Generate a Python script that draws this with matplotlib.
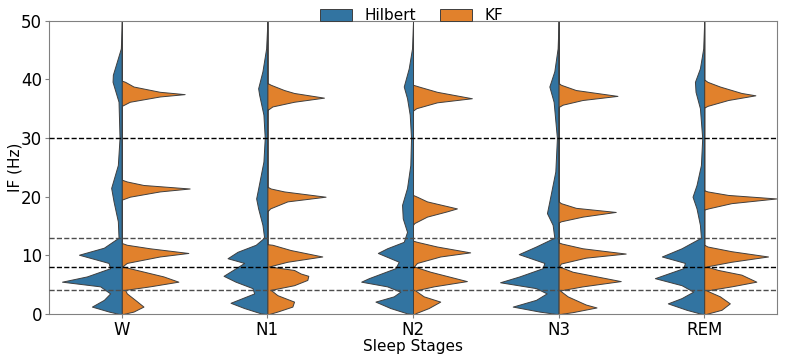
import matplotlib
matplotlib.use("Agg")
import matplotlib.pyplot as plt
from matplotlib.patches import Patch
import numpy as np

stages = ["W", "N1", "N2", "N3", "REM"]
methods = ["Hilbert", "KF"]
band_edges = [4, 8, 13, 30]

# half-violin profiles: (IF in Hz, density in arbitrary units)
w_hilbert = [(0, 3), (0.4, 13), (1.25, 30), (2.4, 18), (3.5, 11.7), (4.7, 21.7), (5.5, 60),
             (6.4, 35), (7.8, 11.7), (8.7, 13.3), (10.1, 43), (11.3, 18), (13, 3.3), (15.8, 4),
             (19.2, 8.3), (21.5, 10.7), (25.4, 4), (30, 2.3), (36.2, 3.3), (39.6, 9.3),
             (40.8, 9), (45.3, 1), (50, 0)]
w_kf = [(0, 1.7), (0.4, 11.7), (1.25, 21.7), (2.4, 13.3), (3.5, 5), (4.1, 3.3), (4.7, 28),
        (5.5, 56.7), (6.4, 41.7), (7.5, 15), (8.1, 0.5), (8.7, 5), (9.8, 38), (10.4, 66.7),
        (11.2, 28), (11.8, 5), (12.1, 0), (19.5, 0), (20.0, 8), (20.9, 38), (21.4, 68),
        (22.0, 21.7), (22.6, 5), (22.9, 0), (35.5, 0), (36.2, 8), (37.1, 38), (37.5, 63),
        (37.9, 38), (38.8, 11.7), (39.6, 3.3), (39.8, 0), (50, 0)]

n1_hilbert = [(0, 2), (0.1, 6.7), (1.0, 23.3), (1.9, 37), (3.5, 13.3), (4.4, 15), (5.5, 32),
              (6.5, 44), (7.8, 31.7), (8.7, 23.3), (9.5, 40), (10.6, 30), (11.8, 11.7),
              (13, 3.3), (15.2, 5), (18.0, 9.3), (19.7, 11.3), (21.4, 9.3), (26, 4),
              (30, 2.7), (34, 4), (37.4, 8.3), (38.5, 9.3), (41.4, 5), (45.3, 1.3), (50, 0)]
n1_kf = [(0, 2), (0.4, 10), (1.25, 25), (2.1, 26.7), (3.2, 10), (4.1, 3.3), (4.9, 26.7),
         (5.8, 40), (6.5, 41), (6.9, 33.3), (7.5, 26.7), (8.1, 1.7), (8.9, 20), (9.8, 55),
         (10.9, 23.3), (11.8, 5), (11.9, 0), (17.5, 0), (18.0, 2.7), (19.2, 20), (20.0, 58.3),
         (20.9, 16.7), (21.4, 3.3), (21.7, 0), (34.8, 0), (35.4, 5), (36.2, 26.7),
         (36.9, 56.7), (37.7, 26.7), (38.2, 16.7), (39.1, 3.3), (39.4, 0), (50, 0)]

n2_hilbert = [(0, 2), (0.1, 6), (1.0, 22.7), (2.1, 37.7), (3.0, 19.3), (3.8, 12.7), (4.7, 26),
              (5.5, 52), (6.1, 44.3), (7.8, 17.7), (8.9, 14.3), (10.4, 35.3), (11.2, 26),
              (12.3, 9.3), (14.0, 6), (16.3, 10.3), (18.6, 11), (21.5, 6), (25.4, 2.7),
              (30, 2), (34, 3.3), (36.8, 6), (38.8, 9.3), (41.9, 4.3), (45.3, 1), (50, 0)]
n2_kf = [(0, 2.3), (0.1, 2.3), (1.0, 15.7), (2.1, 27.3), (3.0, 10.7), (4.0, 2.3), (4.7, 20.7),
         (5.6, 54), (7.2, 17.3), (8.1, 1), (8.7, 4), (9.8, 27.3), (10.5, 57.3), (11.5, 24),
         (12.3, 4), (12.5, 0), (15.2, 0), (15.5, 1.3), (16.6, 14), (17.5, 34), (18.0, 44),
         (19.2, 14), (20.0, 4), (20.3, 0), (34.7, 0), (35.1, 3.3), (36.1, 24), (36.8, 59),
         (37.9, 24), (38.8, 5.7), (39.1, 0), (50, 0)]

n3_hilbert = [(0, 2.7), (0.4, 19.3), (1.25, 46), (2.4, 22.7), (3.5, 12), (4.4, 22.7),
              (5.4, 58.7), (6.4, 39.3), (7.8, 16), (8.7, 14.3), (10.2, 40), (11.5, 22.7),
              (13, 4.3), (15.2, 6), (17.2, 11.7), (19.2, 9.3), (24.3, 3.3), (30, 1.7),
              (36.2, 5), (38.8, 9.3), (41.4, 4.3), (45.3, 1), (50, 0)]
n3_kf = [(0, 2), (0.3, 14), (1.1, 38), (1.6, 27.3), (3.0, 9), (4.0, 1.3), (4.7, 24),
         (5.6, 62.3), (7.2, 14), (8.1, 0.5), (8.6, 2.3), (9.6, 27.3), (10.3, 67.3), (11.2, 24),
         (12.0, 3.3), (12.2, 0), (15.6, 0), (15.8, 2.3), (16.6, 24), (17.4, 57.3),
         (18.1, 17.3), (18.9, 2.3), (19.2, 0), (35.3, 0), (35.7, 4), (36.5, 24), (37.2, 59),
         (38.2, 17.3), (39.1, 2.3), (39.4, 0), (50, 0)]

rem_hilbert = [(0, 2.7), (0.7, 17.7), (1.8, 36.5), (2.7, 22.7), (3.8, 11), (4.9, 22.7),
               (6.1, 49.5), (7.8, 21), (8.7, 19.3), (9.8, 42.5), (11.2, 22.7), (13, 3.3),
               (15.2, 4.3), (18.0, 7.7), (20.0, 11.7), (22.0, 7.7), (25.4, 3.3), (30, 2),
               (35.1, 4.3), (37.9, 8.7), (39.6, 9.3), (41.9, 4.3), (45.3, 1), (50, 0)]
rem_kf = [(0, 2), (0.7, 17.3), (1.8, 25.7), (3.0, 15.7), (4.0, 2.3), (4.7, 27.3), (5.5, 52.3),
          (6.7, 37.3), (7.5, 14), (8.1, 2.3), (8.9, 27.3), (9.8, 64), (10.7, 27.3),
          (11.5, 3.3), (11.8, 0), (17.8, 0), (18.0, 4), (18.9, 27.3), (19.7, 72.3),
          (20.3, 24), (20.9, 3.3), (21.1, 0), (35.2, 0), (35.5, 3.3), (36.5, 24),
          (37.3, 51.3), (37.7, 37.3), (38.8, 15.7), (39.6, 3.3), (40.0, 0), (50, 0)]

profiles = {
    "W": (w_hilbert, w_kf),
    "N1": (n1_hilbert, n1_kf),
    "N2": (n2_hilbert, n2_kf),
    "N3": (n3_hilbert, n3_kf),
    "REM": (rem_hilbert, rem_kf),
}

colors = ["#3274a1", "#e1812c"]
edge = "#3f3f3f"
scale = 1 / 146.0

fig = plt.figure(figsize=(7.87, 3.6), dpi=100)
ax = fig.add_axes([0.0623, 0.128, 0.925, 0.814])

for i, st in enumerate(stages):
    hil, kf = profiles[st]
    y, d = np.array(hil).T
    ax.fill_betweenx(y, i - d * scale, i, facecolor=colors[0], edgecolor=edge, lw=0.7, zorder=2)
    y, d = np.array(kf).T
    ax.fill_betweenx(y, i, i + d * scale, facecolor=colors[1], edgecolor=edge, lw=0.7, zorder=2)

for b in band_edges:
    c = "black" if b in (8, 30) else "0.3"
    ax.axhline(b, color=c, ls="--", lw=1.0, zorder=3)

ax.set_xlim(-0.5, 4.5)
ax.set_ylim(0, 50)
ax.set_xticks(range(len(stages)))
ax.set_xticklabels(stages)
ax.set_yticks([0, 10, 20, 30, 40, 50])
ax.tick_params(labelsize=12, color="0.5", length=3, pad=2)
ax.set_xlabel("Sleep Stages", fontsize=11)
ax.set_ylabel("IF (Hz)", fontsize=11)
ax.xaxis.set_label_coords(0.5, -0.085)
ax.yaxis.set_label_coords(-0.037, 0.5)
for s in ax.spines.values():
    s.set_color("0.5")

handles = [Patch(facecolor=colors[k], edgecolor=edge, lw=0.7, label=m) for k, m in enumerate(methods)]
fig.legend(handles=handles, loc="upper center", bbox_to_anchor=(0.523, 1.015), ncol=2,
           frameon=False, fontsize=11, handlelength=2.1, handleheight=0.75, columnspacing=1.6)

fig.savefig("out.png", dpi=100)
